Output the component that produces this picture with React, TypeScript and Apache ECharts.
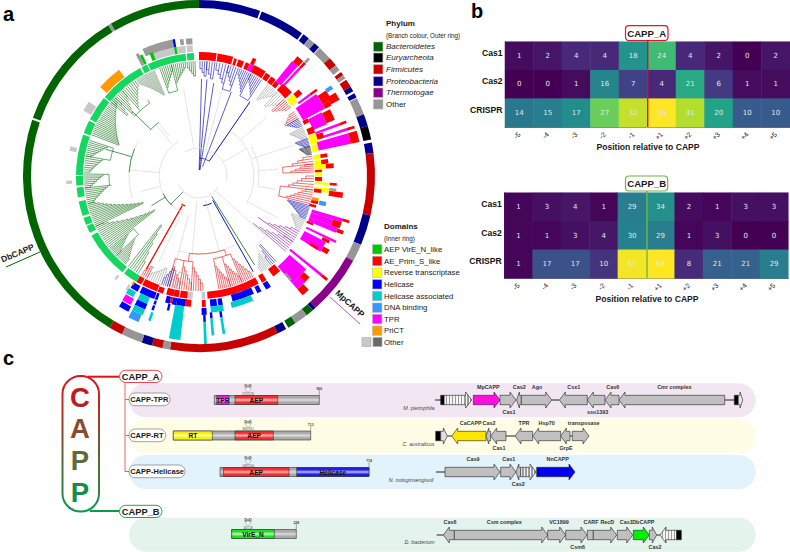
import React, { useEffect, useRef } from "react";
import * as echarts from "echarts";

const SANS = '"Liberation Sans", Arial, sans-serif';

// ---------- palette ----------
const PAL: Record<string, string> = {
  bac: "#006400", eur: "#000000", fir: "#c80000", pro: "#00008b", the: "#8b008b", oth: "#969696",
  ring: "#14d760", vir: "#00c800", prim: "#ff0000", rt: "#ffff00", hel: "#0000ff", ass: "#00cccc",
  dna: "#3399ff", tpr: "#ff00ff", pri: "#ff9900", lg: "#c8c8c8", dg: "#9a9a9a",
  tGreen: "#0f6b0f", tGrayG: "#6f8f6f", tBlue: "#1414b4", tRed: "#e01010", tPur: "#8a1a9a", tGray: "#999999",
  tBlack: "#111111", tDeep: "#d8d8d8",
};

// ---------- panel a: outer ring [from, to, phylum] (degrees clockwise from north) ----------
const outerRing: [number, number, string][] = [
  [0, 20.3, "pro"], [20.9, 35.8, "pro"], [36.4, 38.6, "pro"], [38.7, 41, "oth"], [41, 43, "pro"], [43.3, 48, "oth"],
  [48, 51, "fir"], [51, 53, "oth"], [53.8, 55, "fir"], [55, 56.3, "oth"], [56.8, 59.5, "fir"], [59.5, 61.2, "pro"],
  [62, 63.5, "pro"], [63.8, 69.5, "oth"], [69.5, 73.5, "pro"], [73.5, 78, "eur"], [79, 82.5, "pro"], [82.5, 103, "fir"],
  [103, 113, "pro"], [113, 118.8, "oth"], [118.8, 138.5, "the"], [138.5, 139.7, "pro"], [139.7, 142.3, "bac"],
  [142.3, 146.8, "oth"], [146.8, 149.5, "bac"], [150.3, 153.5, "pro"], [153.5, 189.5, "fir"], [189.5, 192, "oth"],
  [192, 195.5, "fir"], [195.5, 199, "pro"], [199, 206, "oth"], [206, 210.5, "fir"], [210.5, 288.6, "bac"],
  [289.3, 329, "bac"], [329, 330, "oth"], [330, 360, "bac"],
];

// ---------- panel a: domains ring and bars [from, to, r0, r1, domain] ----------
const domainBars: [number, number, number, number, string][] = [
  // green inner ring
  [354.3, 357.6, 116, 123, "ring"], [335.5, 353.7, 116, 123, "ring"], [332.2, 335, 116, 123, "ring"], [310, 331.4, 116, 123, "ring"],
  [297.5, 309.3, 116, 123, "ring"], [290.5, 296.7, 116, 123, "ring"], [270.5, 289.7, 116, 123, "ring"], [265.5, 270, 116, 123, "ring"],
  [260, 264.6, 116, 123, "ring"], [251, 258, 116, 123, "ring"], [246.5, 250, 116, 123, "ring"], [242.5, 246, 116, 123, "ring"],
  [218.5, 241, 116, 123, "ring"], [210.5, 217.5, 116, 123, "ring"],
  // top left extras
  [354.5, 357.2, 132, 138, "dg"], [354.5, 357.2, 124.5, 131, "lg"], [352, 353.5, 132, 138, "dg"], [339, 354, 124, 131, "lg"], [336, 349, 131, 139, "dg"],
  [349, 350, 131, 139, "hel"], [349, 350, 124, 131, "vir"], [338, 339.5, 124, 132, "vir"], [333.8, 335, 124, 134, "vir"], [332.5, 333.8, 124, 137, "dg"],
  [312, 323, 124, 133, "pri"], [299.5, 304, 124, 133, "lg"], [281, 283, 125, 132, "lg"], [266.5, 268, 127, 133, "lg"], [218.5, 219.5, 128, 133, "lg"],
  // top right
  [0, 8.2, 116, 124, "prim"], [8.7, 16, 116, 124, "prim"], [16.7, 18, 116, 123, "prim"], [18.7, 21.5, 116, 123, "prim"], [22.4, 24.3, 116, 123, "prim"],
  [24.3, 26.5, 116, 123, "tpr"], [24.5, 26.2, 123, 130, "prim"], [26.4, 32.5, 116, 124, "prim"], [33, 35.5, 116, 123, "prim"], [36, 38.5, 116, 123, "prim"],
  [38.8, 41, 116, 122, "prim"], [39, 42, 122, 148, "tpr"], [39.4, 42.2, 148, 155, "prim"], [42.2, 48, 116, 125, "prim"], [42.6, 43.6, 125, 148, "tpr"],
  [42.6, 43.6, 148, 155, "prim"], [42.6, 43.6, 155, 161, "dg"],
  [49, 51.5, 116, 125, "rt"], [49, 51.5, 125, 132, "prim"], [51.5, 53, 116, 123, "rt"], [53.3, 54.3, 123, 138, "tpr"], [53.3, 54.3, 138, 146, "prim"],
  [55, 61.8, 118, 143, "tpr"], [56, 60, 143, 153, "prim"], [55.5, 57, 153, 160, "dna"], [58.5, 61.5, 150, 160, "prim"], [60, 62, 143, 150, "prim"],
  [62, 64, 117, 123, "prim"], [62.5, 68, 123, 138, "tpr"], [63, 67.5, 138, 147, "prim"], [66.5, 69.5, 117, 124, "prim"],
  [69.3, 70.3, 124, 150, "tpr"], [69.3, 70.3, 150, 157, "prim"], [70, 74.5, 116, 124, "rt"], [70.5, 73, 124, 131, "prim"],
  [72, 73, 131, 155, "tpr"], [72, 73, 155, 163, "prim"], [74.8, 78.2, 116, 122.5, "rt"], [74, 78, 122.5, 155, "tpr"], [74, 78, 155, 164, "prim"],
  // right
  [79.7, 81.8, 116, 123, "rt"], [79.9, 81.6, 123, 130, "prim"], [82.5, 86.5, 116, 127, "rt"], [82.5, 84.5, 123, 130, "prim"], [84.6, 86.6, 127, 135, "prim"], [84.6, 86.6, 116, 127, "rt"],
  [87, 88.3, 116, 123, "prim"], [88.3, 90.2, 116, 123, "rt"], [90.5, 92.4, 116, 123, "prim"], [93, 94, 116, 131, "rt"], [93, 94, 131, 138, "prim"],
  [95.5, 97.5, 116, 131, "rt"], [96.2, 98, 116, 123, "prim"], [95.3, 96.3, 131, 138, "dg"], [96.5, 98.7, 131, 145, "prim"],
  [100.5, 102, 115, 122, "pri"], [102, 103.4, 115, 122, "prim"], [101.5, 103.5, 123, 130, "dna"], [104, 105.2, 114, 121, "prim"],
  [106.5, 108, 118, 150, "tpr"], [106.5, 107.5, 150, 157, "prim"], [108, 110.5, 118, 141, "tpr"], [108, 110.5, 141, 150, "prim"], [110.5, 112.5, 118, 148, "tpr"], [110.8, 112.2, 148, 155, "prim"],
  [112.5, 113.5, 117, 124, "prim"], [115.2, 116.2, 119, 152, "tpr"], [116.2, 117.5, 138, 146, "prim"], [117.5, 122, 119, 143, "tpr"], [119.5, 121.5, 143, 150, "prim"], [120.8, 122, 130, 139, "prim"],
  [128.5, 129.5, 117, 158, "tpr"], [128.5, 129.5, 158, 165, "prim"],
  [131, 139, 120, 142, "tpr"], [132.5, 135.5, 142, 150, "prim"], [135, 139, 142, 150, "tpr"], [136, 139, 150, 158, "prim"],
  [138, 139, 130, 139, "dg"], [139.5, 143.5, 116, 125, "prim"], [147, 149.4, 116, 124, "prim"], [147, 149.4, 125, 132, "hel"],
  // bottom
  [151, 176, 116, 123, "prim"], [151.5, 153.5, 124, 131, "hel"], [155, 165, 123, 130, "hel"], [156.5, 166, 130, 136, "ass"],
  [169.5, 171.5, 124, 131, "hel"], [172, 175, 124, 131, "hel"], [169.5, 175, 131, 137, "ass"],
  [174.5, 175.5, 137, 143, "hel"], [174.5, 175.5, 143, 160, "ass"], [170.5, 171.5, 137, 143, "hel"], [170.5, 171.5, 143, 160, "ass"],
  [177, 178.7, 116, 123, "lg"], [177, 178.7, 124, 131, "prim"], [176.8, 178.9, 132, 139, "hel"], [177.3, 178.3, 139, 146, "hel"], [177.3, 178.3, 146, 170, "ass"],
  [183, 185.5, 116, 123, "lg"], [185.5, 189, 116, 123, "prim"], [183.5, 186, 124, 131, "prim"], [186, 190, 124, 131, "hel"], [186.5, 190.5, 131, 165, "ass"],
  [189.5, 192, 116, 123, "prim"], [192, 195.5, 116, 123, "prim"], [193, 195, 124, 131, "hel"], [192, 193, 124, 130, "prim"], [190, 192, 124, 131, "hel"], [192.5, 193.5, 131, 138, "hel"],
  [197, 199.7, 117, 123, "prim"], [198.5, 199.7, 124, 131, "hel"], [198.6, 199.6, 132, 136, "hel"], [198.6, 199.6, 137, 142, "hel"], [198.4, 199.4, 144, 153, "ass"],
  [200, 207.5, 116, 123, "prim"], [200, 207, 124, 131, "hel"], [202, 206.5, 131, 138, "ass"], [202, 206.5, 138, 144, "hel"], [202, 206.5, 144, 150, "ass"], [202.5, 206.5, 150, 158, "dna"],
  [208, 210.5, 116, 123, "prim"], [208, 211.5, 124.5, 131, "hel"], [208.5, 212, 132, 138, "ass"], [208, 211.7, 139, 146, "tpr"], [207.5, 211.5, 147, 153, "hel"],
  [212, 213, 129, 135, "lg"], [211, 212, 124, 128, "pri"],
];

// ---------- panel a: tip clades, ladderised [long-leaf end, short-leaf end, base radius, leaves, colour] ----------
const tipClades: [number, number, number, number, string][] = [
  [358, 354, 100, 5, "tGreen"], [340, 346, 94, 7, "tGreen"], [346, 353, 96, 8, "tGreen"], [337, 327, 88, 17, "tGrayG"], [313, 318, 92, 6, "tGreen"], [318, 326, 92, 8, "tGreen"],
  [310, 313, 94, 4, "tGreen"], [291, 312, 86, 24, "tGreen"], [288, 280, 96, 9, "tGreen"], [280, 272, 98, 8, "tGreen"], [271, 264, 96, 8, "tGreen"], [264, 256, 92, 9, "tGreen"],
  [244, 256, 62, 14, "tGreen"], [232, 244, 56, 13, "tGreen"], [231, 226, 92, 8, "tGreen"], [226, 220, 90, 9, "tGreen"], [218, 212, 62, 6, "tGreen"],
  [8, 4, 98, 4, "tBlue"], [4, 0.5, 100, 4, "tBlue"], [20, 15, 96, 5, "tBlue"], [15, 9, 96, 5, "tBlue"], [33, 27, 96, 7, "tBlue"], [27, 21, 94, 7, "tBlue"],
  [37, 43, 96, 7, "tGray"], [43, 49, 96, 6, "tGray"], [48, 53, 98, 6, "tRed"], [60, 56, 100, 5, "tRed"],
  [60, 64, 102, 6, "tBlue"], [65, 71, 100, 9, "tGray"], [71, 75, 102, 7, "tBlue"], [75, 79, 104, 8, "tBlack"], [88, 84, 92, 5, "tRed"], [84, 80, 94, 4, "tRed"], [104, 97, 90, 7, "tRed"], [97, 90, 90, 6, "tRed"],
  [105, 112, 92, 11, "tBlue"], [112, 118, 100, 8, "tGray"], [131, 125, 80, 6, "tPur"], [125, 119, 84, 6, "tPur"], [138, 141, 92, 4, "tBlue"], [142, 147, 98, 7, "tGray"],
  [170, 164, 92, 7, "tRed"], [164, 158, 92, 7, "tRed"], [158, 152, 90, 7, "tRed"], [196, 190, 94, 6, "tRed"], [190, 184, 92, 6, "tRed"], [184, 178, 92, 6, "tRed"],
  [190, 195, 98, 4, "tGray"], [195, 199, 96, 5, "tBlue"], [199, 207, 98, 8, "tGray"], [207, 210, 102, 4, "tRed"],
];

// ---------- panel a: deep branches: radials [angle, r0, r1, colour, width] and arcs [r, a0, a1, colour, width] ----------
const deepRadials: [number, number, number, string, number][] = [
  [1.5, 6, 97, "tBlue", 0.7], [4.7, 6, 97, "tBlue", 0.7], [9, 6, 94, "tBlue", 0.7], [21, 10, 90, "tBlue", 0.7], [34.5, 18, 90, "tBlue", 1],
  [150.5, 28, 110, "tBlue", 1], [148, 24, 105, "tGreen", 0.8], [209.5, 34, 107, "tRed", 1.3], [286, 70, 97, "tGreen", 0.7], [314, 67, 93, "tGreen", 0.7],
  [323, 50, 67, "tDeep", 0.7], [320, 40, 67, "tDeep", 0.7], [275, 40, 70, "tDeep", 0.7], [255, 40, 60, "tDeep", 0.7], [225, 22, 40, "tGreen", 0.7],
  [60, 28, 55, "tDeep", 0.7], [49, 55, 90, "tDeep", 0.7], [72, 55, 98, "tDeep", 0.7], [85, 60, 80, "tDeep", 0.7], [100, 60, 78, "tDeep", 0.7],
  [118, 55, 90, "tDeep", 0.7], [132, 22, 90, "tDeep", 0.7], [141, 90, 105, "tDeep", 0.7], [165, 25, 78, "tDeep", 0.7], [185, 25, 86, "tDeep", 0.7],
  [195, 40, 92, "tDeep", 0.7], [205, 40, 95, "tDeep", 0.7], [350, 28, 88, "tDeep", 0.7], [15, 28, 92, "tDeep", 0.7], [125, 72, 84, "tPur", 0.7], [131, 72, 80, "tPur", 0.7],
  [238, 40, 56, "tGreen", 0.7],
  [170, 84, 92, "tRed", 0.6], [164, 84, 92, "tRed", 0.6], [158, 84, 90, "tRed", 0.6], [196, 86, 94, "tRed", 0.6], [190, 86, 92, "tRed", 0.6], [184, 86, 92, "tRed", 0.6],
  [161, 78, 84, "tRed", 0.6], [187, 78, 86, "tRed", 0.6], [88, 84, 92, "tRed", 0.6], [84, 84, 94, "tRed", 0.6], [104, 82, 90, "tRed", 0.6], [97, 82, 90, "tRed", 0.6],
  [340, 88, 94, "tGreen", 0.6], [346, 88, 96, "tGreen", 0.6], [313, 88, 92, "tGreen", 0.6], [318, 88, 92, "tGreen", 0.6], [326, 88, 92, "tGreen", 0.6],
  [288, 90, 96, "tGreen", 0.6], [280, 90, 98, "tGreen", 0.6], [271, 90, 96, "tGreen", 0.6], [264, 88, 92, "tGreen", 0.6], [231, 84, 92, "tGreen", 0.6], [226, 84, 90, "tGreen", 0.6],
  [33, 90, 96, "tBlue", 0.6], [27, 90, 94, "tBlue", 0.6], [20, 90, 96, "tBlue", 0.6], [15, 90, 96, "tBlue", 0.6],
];
const deepArcs: [number, number, number, string, number][] = [
  [40, 205, 330, "tDeep", 0.7], [70, 252, 300, "tDeep", 0.7], [22, 120, 250, "tDeep", 0.7], [28, 330, 460, "tDeep", 0.7], [55, 30, 120, "tDeep", 0.7],
  [90, 127, 141, "tDeep", 0.7], [60, 60, 100, "tDeep", 0.7], [70, 273, 293, "tGreen", 0.7], [67, 313, 323, "tGreen", 0.7], [40, 223, 244, "tGreen", 0.8],
  [33, 205, 212, "tRed", 1.3], [30, 155, 172, "tBlue", 1], [26, 12, 40, "tDeep", 0.7], [18, 0, 34, "tBlue", 0.7], [78, 152, 196, "tDeep", 0.7],
  [84, 158, 170, "tRed", 0.6], [86, 184, 196, "tRed", 0.6], [78, 161, 187, "tRed", 0.6], [84, 84, 88, "tRed", 0.6], [82, 97, 104, "tRed", 0.6],
  [88, 340, 346, "tGreen", 0.6], [88, 313, 326, "tGreen", 0.6], [90, 280, 288, "tGreen", 0.6], [90, 264, 271, "tGreen", 0.6], [84, 226, 231, "tGreen", 0.6], [90, 27, 33, "tBlue", 0.6], [90, 15, 20, "tBlue", 0.6],
];

// ---------- legends ----------
const phylumNames = ["Bacteroidetes", "Euryarcheota", "Firmicutes", "Proteobacteria", "Thermotogae", "Other"];
const phylumKeys = ["bac", "eur", "fir", "pro", "the", "oth"];
const domainNames = ["AEP VirE_N_like", "AE_Prim_S_like", "Reverse transcriptase", "Helicase", "Helicase associated", "DNA binding", "TPR", "PriCT"];
const domainKeys = ["vir", "prim", "rt", "hel", "ass", "dna", "tpr", "pri"];

// ---------- panel b ----------
const positions = ["-5", "-4", "-3", "-2", "-1", "+1", "+2", "+3", "+4", "+5"];
const rowsB = ["Cas1", "Cas2", "CRISPR"];
const cappACas1 = [1, 2, 4, 4, 18, 24, 4, 2, 0, 2];
const cappACas2 = [0, 0, 1, 16, 7, 4, 21, 6, 1, 1];
const cappACrispr = [14, 15, 17, 27, 32, 35, 31, 20, 10, 10];
const cappBCas1 = [1, 3, 4, 1, 29, 34, 2, 1, 3, 3];
const cappBCas2 = [1, 1, 3, 4, 30, 29, 1, 3, 0, 0];
const cappBCrispr = [1, 17, 17, 10, 67, 68, 8, 21, 21, 29];
const viridis = ["#440154", "#482878", "#3e4989", "#31688e", "#26828e", "#1f9e89", "#35b779", "#6ece58", "#b5de2b", "#fde725"];

// ---------- panel c: protein domains [x0, x1, y, label, edge colour, centre colour] ----------
const proteinBars: [number, number, number, string, string, string][] = [
  [214.3, 319.3, 400, "", "#aaaaaa", "#dcdcdc"], [216.7, 229, 400, "TPR", "#e020e0", "#ffb0ff"], [235, 277.7, 400, "AEP", "#f03030", "#ffb0b0"],
  [173.3, 310.7, 435.5, "", "#aaaaaa", "#dcdcdc"], [173.3, 212.3, 435.5, "RT", "#f4f000", "#ffffb0"], [235, 273.3, 435.5, "AEP", "#f03030", "#ffb0b0"],
  [220, 369, 472, "", "#aaaaaa", "#dcdcdc"], [223.3, 289, 472, "AEP", "#f03030", "#ffb0b0"], [296.7, 369, 472, "Helicase", "#2020e0", "#b8b8ff"],
  [231.7, 296.3, 534, "", "#aaaaaa", "#dcdcdc"], [231.7, 274.3, 534, "VirE_N", "#20e020", "#b8ffb8"],
];
// motifs: [bar top, end x, length label, residue labels]
const motifs: [number, number, string, string][] = [
  [395.7, 319.3, "966", "171  176"], [431, 310.7, "713", "346  351"], [467.7, 369, "774", "148  150"], [529.3, 296.3, "228", "26   28"],
];
// the stacked CAPP word [letter, y, colour]
const cappLetters: [string, number, string][] = [["C", 397, "#c01a1a"], ["A", 428.5, "#8a4a2c"], ["P", 460.5, "#5e6a3a"], ["P", 492, "#128e48"]];

// ---------- panel c: genes [x0, x1, y, direction (1 right, -1 left, 0 box), fill] ----------
const Y1 = 400, Y2 = 436, Y3 = 472, Y4 = 535;
const genes: [number, number, number, number, string][] = [
  [444, 471.7, Y1, 1, "hatch"], [473.3, 500, Y1, 1, "#ff10e0"], [500, 516, Y1, 1, "#c0c0c0"], [516.5, 521.3, Y1, -1, "#c0c0c0"], [521.3, 551.7, Y1, 1, "#c0c0c0"],
  [559.3, 587.3, Y1, -1, "#c0c0c0"], [587.3, 605, Y1, -1, "#c0c0c0"], [605, 619, Y1, -1, "#c0c0c0"], [619, 724.7, Y1, -1, "#c0c0c0"],
  [440.7, 444, Y1, 0, "#000000"], [734.3, 738.3, Y1, 0, "#000000"], [738.3, 742.7, Y1, 1, "#e8e8e8"],
  [435.7, 440.7, Y2, 0, "#000000"], [440.7, 447.3, Y2, 1, "#e0e0e0"], [451.7, 486, Y2, -1, "#ffe600"], [486, 490.7, Y2, -1, "#c0c0c0"], [490.7, 506, Y2, -1, "#c0c0c0"],
  [515, 532.7, Y2, -1, "#c0c0c0"], [532.7, 560.7, Y2, -1, "#c0c0c0"], [560.7, 570, Y2, -1, "#c0c0c0"], [572.3, 589, Y2, 1, "#c0c0c0"],
  [445, 500, Y3, 1, "#c0c0c0"], [500.7, 516, Y3, 1, "#c0c0c0"], [516, 520.7, Y3, -1, "#c0c0c0"], [520.7, 536, Y3, 1, "hatch"], [536.7, 575, Y3, 1, "#0000ee"],
  [443.3, 454.3, Y4, -1, "#c0c0c0"], [454.3, 547.7, Y4, 1, "#c0c0c0"], [547.7, 565.7, Y4, 1, "#c0c0c0"], [565.7, 587, Y4, 1, "#c0c0c0"], [587.3, 593.3, Y4, 0, "#c0c0c0"],
  [593.3, 616.7, Y4, 1, "#c0c0c0"], [617.3, 632.7, Y4, 1, "#c0c0c0"], [633.3, 649.3, Y4, 1, "#00f000"], [649.3, 656.7, Y4, 1, "#c0c0c0"], [660, 676.7, Y4, -1, "hatch"], [676.7, 681.3, Y4, 0, "#000000"],
];
// intergenic lines [x0, x1, y]
const geneLines: [number, number, number][] = [
  [435, 441, Y1], [551.7, 559.3, Y1], [724.7, 734.3, Y1], [447.3, 451.7, Y2], [506, 515, Y2], [570, 572.3, Y2], [436, 445, Y3], [436.7, 443.3, Y4], [656.7, 660, Y4],
];
// gene names [text, x, y]
const geneNames: [string, number, number][] = [
  ["MpCAPP", 488.3, 387.3], ["Cas2", 519.3, 387.3], ["Ago", 537, 387.3], ["Csx1", 573.7, 387.3], ["Cas6", 612.7, 387.3], ["Cmr complex", 674.3, 387.3], ["Cas1", 509, 412], ["sso1393", 597.7, 412],
  ["CaCAPP", 470.7, 423.3], ["Cas2", 489, 423.3], ["TPR", 524, 423.3], ["Hsp70", 546.7, 423.3], ["transposase", 583.7, 423.3], ["Cas1", 499, 448], ["GrpE", 566, 448],
  ["Cas9", 473, 459], ["Cas1", 508.7, 459], ["NnCAPP", 557.7, 459], ["Cas2", 518.3, 484],
  ["Cas6", 450, 522.3], ["Csm complex", 504.3, 522.3], ["VC1899", 559, 522.3], ["CARF", 591, 522.3], ["RecD", 607.3, 522.3], ["Cas1", 626.3, 522.3], ["DbCAPP", 643.3, 522.3], ["Csm6", 577.7, 547], ["Cas2", 655, 547],
];
const speciesNames: [string, number, number][] = [
  ["M. piezophila", 434.5, 408.3], ["C. australicus", 434.5, 443.7], ["N. notoginsengisoli", 433.5, 480.3], ["D. bacterium", 434.5, 542.3],
];
// tracks [y, height, fill]
const tracks: [number, number, string][] = [[383.3, 34, "#f3e6f3"], [419, 34.3, "#fffde6"], [455, 34, "#e2f3fb"], [517.7, 34, "#e4f3ec"]];
// sub-type pills [text, x0, x1, y]
const pills: [string, number, number, number][] = [["CAPP-TPR", 129, 170, 393], ["CAPP-RT", 129, 165.7, 429], ["CAPP-Helicase", 129, 185, 465]];

// ---------- derived drawing rows ----------
type Seg = [number, number, number, number, string, number];
function buildTree(): Seg[] {
  const rows: Seg[] = [];
  const tip = 115;
  for (const [a, r0, r1, c, w] of deepRadials) rows.push([a, a, r0, r1, c, w]);
  for (const [r, a0, a1, c, w] of deepArcs) rows.push([a0, a1, r, r, c, w]);
  for (const [a0, a1, base, n, c] of tipClades) {
    let prevA = a0, prevR = base;
    for (let i = 0; i < n; i++) {
      const f = n > 1 ? i / (n - 1) : 0;
      const a = a0 + (a1 - a0) * f;
      const r = base + (tip - 4 - base) * f;
      rows.push([a, a, r, tip, c, 0.6]);
      if (i > 0) {
        rows.push([Math.min(prevA, a), Math.max(prevA, a), prevR, prevR, c, 0.6]);
        rows.push([a, a, prevR, r, c, 0.6]);
      }
      prevA = a;
      prevR = r;
    }
  }
  return rows;
}
const treeRows = buildTree();
const rad = (a: number) => ((a - 90) * Math.PI) / 180;

function hmData(a: number[], b: number[], c: number[]) {
  const out: number[][] = [];
  [a, b, c].forEach((row, y) => row.forEach((v, x) => out.push([x, y, v])));
  return out;
}

function hatchFill(width: number) {
  const stops: { offset: number; color: string }[] = [];
  const n = Math.max(3, Math.round(width / 1.5));
  for (let i = 0; i < n; i++) {
    const c = i % 2 ? "#9a9a9a" : "#f5f5f5";
    stops.push({ offset: i / n, color: c }, { offset: (i + 1) / n, color: c });
  }
  return new echarts.graphic.LinearGradient(0, 0, 1, 0, stops);
}

function txt(text: string, x: number, y: number, size: number, opt: any = {}) {
  return {
    type: "text", x, y, z: opt.z ?? 20, rotation: opt.rotation ?? 0, silent: true,
    style: {
      text, fill: opt.fill ?? "#1a1a1a", align: opt.align ?? "left", verticalAlign: "middle",
      font: `${opt.italic ? "italic " : ""}${opt.bold ? "bold " : ""}${size}px ${SANS}`,
    },
  };
}
function box(x: number, y: number, w: number, h: number, fill: string, stroke: any, lw: number, r: number, z = 1) {
  return { type: "rect", z, silent: true, shape: { x, y, width: w, height: h, r }, style: { fill, stroke, lineWidth: lw } };
}
function seg(x1: number, y1: number, x2: number, y2: number, stroke: any, lw: number, z = 5) {
  return { type: "line", z, silent: true, shape: { x1, y1, x2, y2 }, style: { stroke, lineWidth: lw } };
}

function buildGraphic() {
  const g: any[] = [];
  // panel letters
  g.push(txt("a", 3, 13.5, 20, { bold: true, fill: "#000" }), txt("b", 471, 11, 20, { bold: true, fill: "#000" }), txt("c", 3, 358, 20, { bold: true, fill: "#000" }));
  // legends
  g.push(txt("Phylum", 386, 23, 8, { bold: true }), txt("(Branch colour, Outer ring)", 386, 35.5, 6.3));
  const py = [46.7, 57.7, 69.3, 81.3, 92.7, 104.3];
  phylumNames.forEach((n, i) => {
    g.push(box(373.5, py[i] - 4.7, 9.4, 9.4, PAL[phylumKeys[i]], "#b5b5b5", 0.6, 0));
    g.push(txt(n, 386, py[i], 8, { italic: i < 5 }));
  });
  g.push(txt("Domains", 384, 226.7, 8, { bold: true }), txt("(Inner ring)", 384, 238, 6.3));
  const dy = [249.3, 261, 272.7, 284.3, 296, 307.7, 319, 330.7];
  domainNames.forEach((n, i) => {
    g.push(box(372.5, dy[i] - 4.7, 9.4, 9.4, PAL[domainKeys[i]], "#b5b5b5", 0.6, 0));
    g.push(txt(n, 384, dy[i], 7.8));
  });
  g.push(box(362, 337.5, 9, 9, "#c8c8c8", "#aaa", 0.6, 0), box(373, 337.5, 9, 9, "#6a6a6a", "#aaa", 0.6, 0), txt("Other", 384, 342, 7.8));
  // clade callouts
  g.push(seg(6, 267, 40, 252, "#006400", 1), txt("DbCAPP", 17.5, 253, 8.5, { bold: true, align: "center", rotation: 0.4 }));
  g.push(seg(330, 297, 360, 324, "#9a30a8", 0.8), txt("MpCAPP", 350, 303.5, 8.5, { bold: true, align: "center", rotation: -0.74 }));
  // heatmap headers
  g.push(seg(647.7, 40, 647.7, 127, "#e01020", 1.4, 30), box(625.5, 25.7, 42.5, 15, "#ffffff", "#e01828", 1.2, 3.5, 25), txt("CAPP_A", 646.7, 33.3, 9.6, { bold: true, align: "center", z: 32 }));
  g.push(seg(647, 191, 647, 278.3, "#70b840", 1.4, 30), box(625.5, 176, 42.2, 15, "#ffffff", "#70b840", 1.2, 3.5, 25), txt("CAPP_B", 646.7, 183.5, 9.6, { bold: true, align: "center", z: 32 }));
  g.push(txt("Position relative to CAPP", 648, 146.7, 8.6, { bold: true, align: "center" }), txt("Position relative to CAPP", 647, 298.5, 8.6, { bold: true, align: "center" }));
  // panel c: tracks
  for (const [y, h, f] of tracks) g.push(box(129, y, 626.7, h, f, "none", 0, 17, 0));
  // CAPP bracket
  const grad = new echarts.graphic.LinearGradient(0, 0, 0, 1, [{ offset: 0, color: "#e01020" }, { offset: 1, color: "#0a9a4a" }]);
  g.push(box(62.5, 376, 36.5, 135.5, "#ffffff", grad, 2, 18, 6));
  cappLetters.forEach(([l, y, c]) => g.push(txt(l, 80, y, 27.5, { bold: true, align: "center", fill: c })));
  g.push(seg(88, 376.7, 119.5, 376.7, "#e01020", 2, 5), seg(90, 511, 119.5, 511, "#0a9a4a", 2, 5));
  g.push(box(119.5, 370.3, 42.5, 12.2, "#ffffff", "#e83040", 0.9, 6, 6), txt("CAPP_A", 140.7, 376.5, 9.3, { bold: true, align: "center" }));
  g.push(box(119.5, 505.3, 42.5, 12.2, "#ffffff", "#0a9a4a", 0.9, 6, 6), txt("CAPP_B", 140.7, 511.5, 9.3, { bold: true, align: "center" }));
  g.push(seg(125, 382.5, 125, 471.7, "#f06060", 1, 5));
  pills.forEach(([t, x0, x1, y]) => {
    g.push(seg(125, y + 6.5, x0, y + 6.5, "#f06060", 1, 5));
    g.push(box(x0, y, x1 - x0, 12.7, "#ffffff", "#666", 0.6, 6, 6), txt(t, x0 + 1.2, y + 6.5, 7.5, { bold: true }));
  });
  // motif marks
  motifs.forEach(([top, ex, len, res]) => {
    g.push(seg(ex, top, ex, top - 5.5, "#555", 0.5, 6), txt(len, ex, top - 6.5, 3.4, { align: "center", bold: true, fill: "#444" }));
    g.push({ type: "polygon", z: 6, silent: true, shape: { points: [[244.8, top - 7.8], [251.4, top - 7.8], [248, top - 3]] }, style: { fill: "#fff", stroke: "#555", lineWidth: 0.4 } });
    g.push(seg(248, top - 3, 248, top, "#555", 0.4, 6));
    g.push(txt("DxD", 248, top - 9.3, 3.6, { align: "center", bold: true, fill: "#444" }), txt(res, 248, top - 2, 3, { align: "center", fill: "#444" }));
  });
  geneNames.forEach(([t, x, y]) => g.push(txt(t, x, y, 5.4, { bold: true, align: "center", fill: "#333" })));
  speciesNames.forEach(([t, x, y]) => g.push(txt(t, x, y, 5.3, { italic: true, align: "right", fill: "#444" })));
  return g;
}

function polarHelpers(params: any, api: any) {
  const { cx, cy } = params.coordSys;
  const px = (r: number, a: number) => api.coord([r, a]);
  const rr = (r: number) => {
    const p = px(r, 0);
    return Math.hypot(p[0] - cx, p[1] - cy);
  };
  return { cx, cy, px, rr };
}

function buildOption() {
  const hidden = { show: false };
  return {
    animation: false,
    backgroundColor: "#ffffff",
    textStyle: { fontFamily: SANS },
    polar: { center: [199, 176], radius: [0, 176] },
    angleAxis: { type: "value", min: 0, max: 360, startAngle: 90, clockwise: true, ...hidden },
    radiusAxis: { type: "value", min: 0, max: 176, ...hidden },
    grid: [
      { left: 505, top: 41.7, width: 285, height: 85.5, containLabel: false },
      { left: 504.3, top: 192.7, width: 284, height: 85.6, containLabel: false },
      { left: 0, top: 0, width: 790, height: 552 },
    ],
    xAxis: [0, 1].map((g) => ({
      type: "category", gridIndex: g, data: positions,
      axisLine: { lineStyle: { color: "#777", width: 1 } },
      axisTick: { length: 2, lineStyle: { color: "#333", width: 0.5 }, alignWithLabel: true },
      axisLabel: { rotate: 45, fontSize: 7, color: "#222", margin: 6, interval: 0, fontFamily: SANS },
      splitArea: { show: false }, splitLine: { show: false },
    })).concat([{ type: "value", gridIndex: 2, min: 0, max: 790, show: false } as any]),
    yAxis: [0, 1].map((g) => ({
      type: "category", gridIndex: g, data: rowsB, inverse: true,
      axisLine: { lineStyle: { color: "#777", width: 1 } },
      axisTick: { length: 2, lineStyle: { color: "#333", width: 0.5 }, alignWithLabel: true },
      axisLabel: { fontSize: 8.6, fontWeight: "bold", color: "#111", margin: 2.5, interval: 0, verticalAlign: "bottom", lineHeight: 6, fontFamily: SANS },
      splitArea: { show: false }, splitLine: { show: false },
    })).concat([{ type: "value", gridIndex: 2, min: 0, max: 552, inverse: true, show: false } as any]),
    visualMap: [
      { show: false, seriesIndex: 0, min: 0, max: 35, dimension: 2, inRange: { color: viridis } },
      { show: false, seriesIndex: 1, min: 0, max: 68, dimension: 2, inRange: { color: viridis } },
    ],
    graphic: { elements: buildGraphic() },
    series: [
      {
        type: "heatmap", xAxisIndex: 0, yAxisIndex: 0, data: hmData(cappACas1, cappACas2, cappACrispr), itemStyle: { borderWidth: 0 },
        label: { show: true, color: "#e6e6e6", fontSize: 7, fontFamily: "DejaVu Sans" },
      },
      {
        type: "heatmap", xAxisIndex: 1, yAxisIndex: 1, data: hmData(cappBCas1, cappBCas2, cappBCrispr), itemStyle: { borderWidth: 0 },
        label: { show: true, color: "#e6e6e6", fontSize: 7, fontFamily: "DejaVu Sans" },
      },
      // tree branches
      {
        type: "custom", coordinateSystem: "polar", z: 3, silent: true,
        data: treeRows.map((r) => [r[2], r[0]]),
        renderItem: (params: any, api: any) => {
          const [a0, a1, r0, r1, c, w] = treeRows[params.dataIndex];
          const { cx, cy, px, rr } = polarHelpers(params, api);
          const style = { stroke: PAL[c], lineWidth: w, fill: "none" };
          if (a0 === a1) {
            const p = px(r0, a0 % 360), q = px(r1, a0 % 360);
            return { type: "line", shape: { x1: p[0], y1: p[1], x2: q[0], y2: q[1] }, style };
          }
          return { type: "arc", shape: { cx, cy, r: rr(r0), startAngle: rad(a0), endAngle: rad(a1), clockwise: true }, style };
        },
      },
      // domain bars
      {
        type: "custom", coordinateSystem: "polar", z: 4, silent: true,
        data: domainBars.map((r) => [r[2], r[0]]),
        renderItem: (params: any, api: any) => {
          const [a0, a1, r0, r1, k] = domainBars[params.dataIndex];
          const { cx, cy, rr } = polarHelpers(params, api);
          return { type: "sector", shape: { cx, cy, r0: rr(r0), r: rr(r1), startAngle: rad(a0), endAngle: rad(a1), clockwise: true }, style: { fill: PAL[k] } };
        },
      },
      // outer ring
      {
        type: "custom", coordinateSystem: "polar", z: 4, silent: true,
        data: outerRing.map((r) => [168, r[0]]),
        renderItem: (params: any, api: any) => {
          const [a0, a1, k] = outerRing[params.dataIndex];
          const { cx, cy, rr } = polarHelpers(params, api);
          return { type: "sector", shape: { cx, cy, r0: rr(168), r: rr(176), startAngle: rad(a0), endAngle: rad(a1), clockwise: true }, style: { fill: PAL[k] } };
        },
      },
      // protein domain bars
      {
        type: "custom", xAxisIndex: 2, yAxisIndex: 2, z: 4, silent: true,
        data: proteinBars.map((r) => [r[0], r[2]]),
        renderItem: (params: any, api: any) => {
          const [x0, x1, y, label, col, mid] = proteinBars[params.dataIndex];
          const a = api.coord([x0, y - 4.5]), b = api.coord([x1, y + 4.5]);
          const fill = new echarts.graphic.LinearGradient(0, 0, 0, 1, [
            { offset: 0, color: col }, { offset: 0.25, color: col }, { offset: 0.5, color: mid }, { offset: 0.75, color: col }, { offset: 1, color: col },
          ]);
          return {
            type: "group",
            children: [
              { type: "rect", shape: { x: a[0], y: a[1], width: b[0] - a[0], height: b[1] - a[1] }, style: { fill, stroke: "#333", lineWidth: 0.6 } },
              ...(label ? [{ type: "text", x: (a[0] + b[0]) / 2, y: (a[1] + b[1]) / 2, style: { text: label, font: `bold 6.6px ${SANS}`, fill: "#111", align: "center", verticalAlign: "middle" } }] : []),
            ],
          };
        },
      },
      // intergenic lines
      {
        type: "custom", xAxisIndex: 2, yAxisIndex: 2, z: 3, silent: true,
        data: geneLines.map((r) => [r[0], r[2]]),
        renderItem: (params: any, api: any) => {
          const [x0, x1, y] = geneLines[params.dataIndex];
          const a = api.coord([x0, y]), b = api.coord([x1, y]);
          return { type: "line", shape: { x1: a[0], y1: a[1], x2: b[0], y2: b[1] }, style: { stroke: "#222", lineWidth: 1 } };
        },
      },
      // genes
      {
        type: "custom", xAxisIndex: 2, yAxisIndex: 2, z: 4, silent: true,
        data: genes.map((r) => [r[0], r[2]]),
        renderItem: (params: any, api: any) => {
          const [x0, x1, y, dir, fill] = genes[params.dataIndex];
          const w = x1 - x0;
          const H = Math.min(6, w * 0.6);
          const pt = (x: number, yy: number) => api.coord([x, yy]);
          let pts: number[][];
          if (dir === 1) pts = [pt(x0, y - 4.7), pt(x1 - H, y - 4.7), pt(x1 - H, y - 8), pt(x1, y), pt(x1 - H, y + 8), pt(x1 - H, y + 4.7), pt(x0, y + 4.7)];
          else if (dir === -1) pts = [pt(x1, y - 4.7), pt(x0 + H, y - 4.7), pt(x0 + H, y - 8), pt(x0, y), pt(x0 + H, y + 8), pt(x0 + H, y + 4.7), pt(x1, y + 4.7)];
          else pts = [pt(x0, y - 4.7), pt(x1, y - 4.7), pt(x1, y + 4.7), pt(x0, y + 4.7)];
          return { type: "polygon", shape: { points: pts }, style: { fill: fill === "hatch" ? hatchFill(w) : fill, stroke: "#222", lineWidth: 0.6 } };
        },
      },
    ],
  };
}

export default function App() {
  const ref = useRef<HTMLDivElement>(null);
  useEffect(() => {
    document.body.style.margin = "0";
    const chart = echarts.init(ref.current!, undefined, { renderer: "svg" });
    chart.setOption(buildOption() as any);
    return () => chart.dispose();
  }, []);
  return <div ref={ref} style={{ width: 790, height: 552 }} />;
}
